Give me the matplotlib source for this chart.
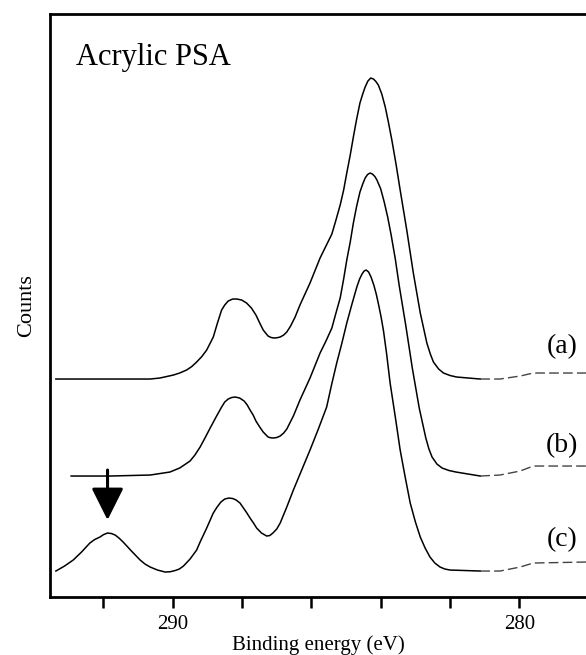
import matplotlib
matplotlib.use("Agg")
import matplotlib.pyplot as plt
import numpy as np

# C1s spectra (binding energy in eV, counts in a.u.)
energy_a = [293.37, 292.10, 290.65, 290.37, 289.98, 289.80, 289.60, 289.45, 289.31,
            289.16, 289.02, 288.83, 288.71, 288.59, 288.50, 288.40, 288.27, 288.15,
            288.01, 287.87, 287.73, 287.60, 287.49, 287.39, 287.25, 287.16, 287.08,
            286.99, 286.90, 286.80, 286.71, 286.60, 286.47, 286.33, 286.04, 285.75,
            285.58, 285.41, 285.30, 285.17, 285.07, 284.98, 284.88, 284.79, 284.70,
            284.60, 284.52, 284.45, 284.37, 284.29, 284.21, 284.14, 284.07, 283.97,
            283.87, 283.78, 283.68, 283.56, 283.44, 283.25, 283.06, 282.86, 282.67,
            282.57, 282.48, 282.33, 282.19, 282.00, 281.81, 281.13, 280.56, 279.98,
            279.60, 278.08]
counts_a = [218, 218, 218, 219, 222, 224, 227, 230.5, 235,
            240.5, 247, 260, 274, 287, 292, 296, 298, 298,
            297, 294, 289, 282, 274, 267, 261, 259.5, 259,
            259.3, 260, 262, 265, 271, 280, 292, 314, 339,
            351, 363, 376, 392, 407, 424, 442, 460, 477,
            494, 503, 510, 516, 519, 518, 515.5, 512, 503,
            490, 475, 457, 433, 407, 367, 324, 284, 254,
            243, 235, 228, 224, 221.5, 220, 218, 218, 221,
            224, 224]

energy_b = [292.93, 291.81, 290.65, 290.08, 289.80, 289.50, 289.36, 289.21, 289.07,
            288.92, 288.75, 288.59, 288.50, 288.40, 288.30, 288.20, 288.07, 287.94,
            287.85, 287.77, 287.68, 287.60, 287.49, 287.39, 287.25, 287.17, 287.10,
            287.00, 286.90, 286.80, 286.71, 286.52, 286.33, 286.04, 285.75, 285.58,
            285.41, 285.30, 285.17, 285.07, 284.98, 284.88, 284.79, 284.70, 284.60,
            284.52, 284.45, 284.38, 284.31, 284.24, 284.17, 284.11, 284.00, 283.90,
            283.80, 283.70, 283.58, 283.47, 283.28, 283.09, 282.89, 282.70, 282.61,
            282.52, 282.38, 282.23, 282.03, 281.83, 281.13, 280.56, 279.98, 279.60,
            278.08]
counts_b = [121, 121, 122, 125, 129, 136, 142, 150, 159,
            169, 180, 190, 195, 198, 199.5, 200, 199, 196,
            192, 187, 182, 176, 170, 165, 160, 159.2, 159,
            159.5, 161, 164, 168, 181, 197, 219, 244, 256,
            269, 283, 299, 318, 337, 355, 374, 390, 405,
            413, 419, 422.5, 424, 423, 420.5, 417, 408, 395,
            380, 362, 338, 312, 272, 229, 189, 159, 148,
            140, 133, 129, 126.5, 125, 121, 122, 126, 131,
            131]

energy_c = [293.37, 293.12, 292.87, 292.63, 292.39, 292.25, 292.10, 291.99, 291.88,
            291.77, 291.66, 291.55, 291.43, 291.19, 290.94, 290.80, 290.65, 290.44,
            290.22, 290.07, 289.93, 289.81, 289.69, 289.50, 289.31, 289.21, 289.02,
            288.83, 288.72, 288.61, 288.50, 288.38, 288.27, 288.17, 288.06, 287.96,
            287.86, 287.77, 287.67, 287.58, 287.44, 287.29, 287.20, 287.11, 287.00,
            286.90, 286.71, 286.52, 286.28, 286.04, 285.80, 285.56, 285.42, 285.27,
            285.12, 284.98, 284.83, 284.69, 284.61, 284.54, 284.48, 284.42, 284.35,
            284.28, 284.20, 284.13, 284.06, 283.99, 283.92, 283.83, 283.73, 283.58,
            283.44, 283.29, 283.15, 283.00, 282.86, 282.72, 282.58, 282.44, 282.29,
            282.15, 282.00, 281.13, 280.56, 279.98, 279.60, 278.08]
counts_c = [26, 31, 37, 45, 54, 57.5, 60, 62.5, 64,
            63.5, 62, 59, 55, 46, 37, 33, 30, 27,
            25, 25.3, 26.5, 28, 31, 38, 47, 55, 69,
            84, 90, 95, 98, 99, 98.5, 97, 94, 89,
            84, 79, 74, 69, 64, 61, 61.5, 64, 68,
            74, 90, 107, 127, 147, 168, 190, 212, 234,
            254, 274, 293, 310, 318, 323, 326, 327, 325,
            320, 312, 303, 292, 280, 266, 243, 214, 180,
            147, 119, 94, 75, 60, 49, 40, 34, 30,
            28, 27, 26, 26, 30, 34, 35]

spectra = [("(a)", energy_a, counts_a), ("(b)", energy_b, counts_b), ("(c)", energy_c, counts_c)]
label_pos = {"(a)": (278.77, 250), "(b)": (278.77, 151), "(c)": (278.77, 57)}
arrow_energy = 291.88
arrow_from, arrow_to = 127, 77

plt.rcParams['font.family'] = ['Liberation Serif', 'DejaVu Serif']

fig = plt.figure(figsize=(5.86, 6.55), dpi=100)
ax = fig.add_axes([0.0853, 0.0885, 0.9147, 0.8901])

for name, e, c in spectra:
    e = np.asarray(e)
    c = np.asarray(c)
    body = e >= 281.0
    tail = e <= 281.13
    ax.plot(e[body], c[body], color='black', lw=1.1, solid_joinstyle='round')
    ax.plot(e[tail], c[tail], color='#444444', lw=1.0, dashes=(7, 3))
    lx, ly = label_pos[name]
    ax.text(lx, ly, name, fontsize=20, ha='center', va='center')

ax.annotate('', xy=(arrow_energy, arrow_to), xytext=(arrow_energy, arrow_from),
            arrowprops=dict(arrowstyle='-|>,head_length=0.9,head_width=0.45',
                            color='black', lw=2.2, mutation_scale=22,
                            shrinkA=0, shrinkB=0))

ax.text(0.0485, 0.9125, 'Acrylic PSA', transform=ax.transAxes, fontsize=22,
        ha='left', va='baseline')

ax.set_xlim(293.54, 278.08)
ax.set_ylim(0, 583)
ticks = np.arange(292, 279, -2)
ax.set_xticks(ticks)
ax.set_xticklabels(['' if t not in (290, 280) else str(t) for t in ticks])
ax.tick_params(axis='x', direction='out', length=8, width=1.8, labelsize=15, pad=5)
ax.set_yticks([])
ax.spines['right'].set_visible(False)
for s in ['left', 'top', 'bottom']:
    ax.spines[s].set_linewidth(2)

ax.set_xlabel('Binding energy (eV)', fontsize=15, labelpad=1)
ax.set_ylabel('Counts', fontsize=16, labelpad=10)

fig.savefig('out.png', dpi=100)
